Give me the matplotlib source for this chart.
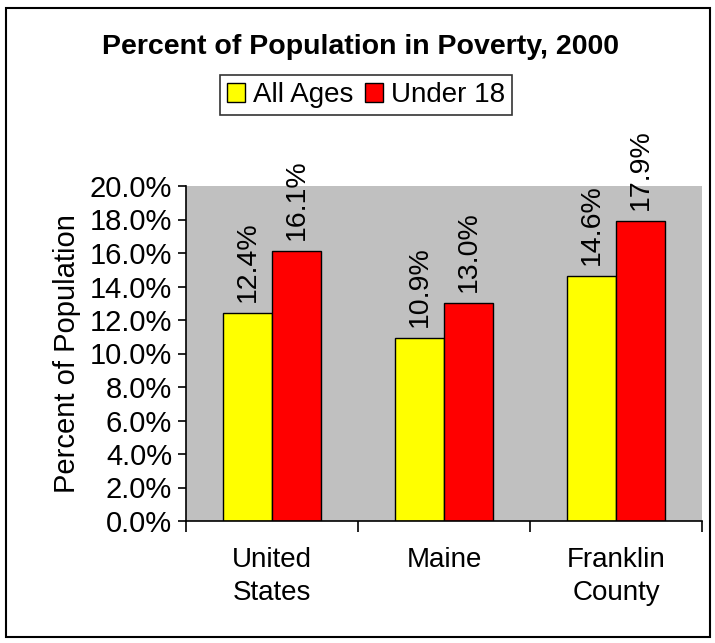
import matplotlib
matplotlib.use("Agg")
import matplotlib.pyplot as plt
import numpy as np
from matplotlib.patches import Rectangle

categories = ["United\nStates", "Maine", "Franklin\nCounty"]
all_ages = [12.4, 10.9, 14.6]
under_18 = [16.1, 13.0, 17.9]
series_names = ["All Ages", "Under 18"]
yticks = [0, 2, 4, 6, 8, 10, 12, 14, 16, 18, 20]

plt.rcParams['font.family'] = ['Liberation Sans', 'DejaVu Sans']

fig = plt.figure(figsize=(7.15, 6.43), dpi=100)
fig.patches.append(Rectangle((6/715, 1 - 637/643), 704/715, 629/643, transform=fig.transFigure,
                             fill=False, edgecolor='black', linewidth=1.5))

ax = fig.add_axes([186/715, 1 - 521/643, 516/715, 335/643])
ax.set_facecolor('#C0C0C0')
x = np.arange(len(categories))
w = 0.285
b1 = ax.bar(x - w/2, all_ages, w, color='#FFFF00', edgecolor='black', linewidth=1, label=series_names[0])
b2 = ax.bar(x + w/2, under_18, w, color='#FF0000', edgecolor='black', linewidth=1, label=series_names[1])
for bars, vals in ((b1, all_ages), (b2, under_18)):
    for r, v in zip(bars, vals):
        ax.annotate(f"{v:.1f}%", (r.get_x() + r.get_width()/2, v), xytext=(0, 8),
                    textcoords='offset points', rotation=90, ha='center', va='bottom',
                    fontsize=20.5, annotation_clip=False)

ax.set_xlim(-0.5, 2.5)
ax.set_ylim(0, 20)
ax.set_yticks(yticks)
ax.set_yticklabels([f"{t:.1f}%" for t in yticks], fontsize=21)
ax.set_xticks([-0.5, 0.5, 1.5, 2.5])
ax.set_xticklabels([])
ax.set_xticks(x, minor=True)
ax.set_xticklabels(categories, minor=True, fontsize=20, linespacing=1.35)
ax.tick_params(axis='x', which='minor', length=0, pad=19)
ax.tick_params(axis='x', which='major', direction='out', length=8, width=1.2)
ax.tick_params(axis='y', direction='out', length=6, width=1.2, pad=4)
for s in ['top', 'right']:
    ax.spines[s].set_visible(False)
ax.spines['left'].set_linewidth(1.2)
ax.spines['bottom'].set_linewidth(1.2)
ax.set_ylabel("Percent of Population", fontsize=21, labelpad=6)

fig.text(360/715, 1 - 47/643, "Percent of Population in Poverty, 2000", ha='center', va='center',
         fontsize=20.5, fontweight='bold')
leg = fig.legend(handles=[b1, b2], labels=series_names, loc='center', bbox_to_anchor=(366/715, 1 - 95/643),
                 ncol=2, frameon=True, fancybox=False, edgecolor='black', fontsize=20,
                 handlelength=0.65, handleheight=0.65, handletextpad=0.3, columnspacing=0.4,
                 borderpad=0.25, borderaxespad=0)
leg.get_frame().set_linewidth(1.2)

fig.savefig("out.png", dpi=100)
